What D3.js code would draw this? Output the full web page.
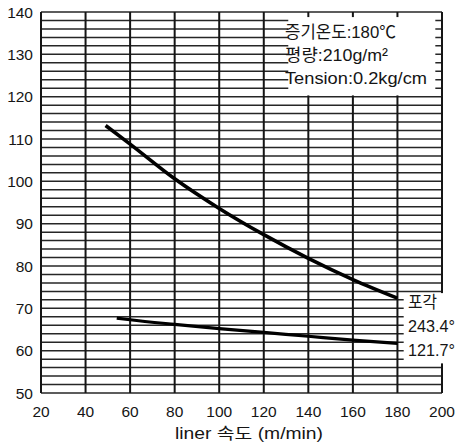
<!DOCTYPE html>
<html>
<head>
<meta charset="utf-8">
<script src="https://cdn.jsdelivr.net/npm/d3@7"></script>
<style>
  body { margin: 0; background: #fff; }
  svg { display: block; }
</style>
</head>
<body>
<div id="chart"></div>
<script>
// speed on the x axis, value on the y axis
var speedUpper = [49, 60, 80, 100, 120, 140, 160, 180];
var valueUpper = [113.2, 108.8, 100.6, 93.6, 87.4, 81.8, 76.8, 72.4];

var speedLower = [54, 60, 80, 100, 120, 140, 160, 180];
var valueLower = [67.7, 67.3, 66.2, 65.2, 64.3, 63.4, 62.5, 61.7];

var xTicks = [20, 40, 60, 80, 100, 120, 140, 160, 180, 200];
var yTicks = [50, 60, 70, 80, 90, 100, 110, 120, 130, 140];

var noteLines = ['증기온도:180℃', '평량:210g/m²', 'Tension:0.2kg/cm'];
var endLabels = ['포각', '243.4°', '121.7°'];

var W = 455, H = 447;
var margin = {top: 12, right: 13, bottom: 54, left: 41};

var svg = d3.select('#chart').append('svg')
    .attr('width', W)
    .attr('height', H);

var x = d3.scaleLinear().domain([20, 200]).range([margin.left, W - margin.right]);
var y = d3.scaleLinear().domain([50, 140]).range([H - margin.bottom, margin.top]);

var ink = '#151515';
var sans = '"Liberation Sans", "Noto Sans CJK KR", sans-serif';

// graph paper: horizontal every 2, vertical every 20
var g = svg.append('g');
g.selectAll('.hline')
    .data(d3.range(50, 141, 2))
    .enter().append('line')
    .attr('x1', x(20)).attr('x2', x(200))
    .attr('y1', function(d){ return y(d); })
    .attr('y2', function(d){ return y(d); })
    .style('stroke', '#262626')
    .style('stroke-width', 1.5);

g.selectAll('.vline')
    .data(xTicks)
    .enter().append('line')
    .attr('x1', function(d){ return x(d); })
    .attr('x2', function(d){ return x(d); })
    .attr('y1', y(140)).attr('y2', y(50))
    .style('stroke', ink)
    .style('stroke-width', 2);

// white boxes for the notes
svg.append('rect')
    .attr('x', x(131)).attr('y', y(138.8))
    .attr('width', x(197) - x(131))
    .attr('height', y(120.3) - y(138.8))
    .style('fill', '#fff');

svg.append('rect')
    .attr('x', x(182.8)).attr('y', y(73.6))
    .attr('width', W - x(182.8))
    .attr('height', y(57) - y(73.6))
    .style('fill', '#fff');

// curves
var line = d3.line().curve(d3.curveMonotoneX);

svg.append('path')
    .attr('d', line(speedUpper.map(function(s, i){ return [x(s), y(valueUpper[i])]; })))
    .style('fill', 'none')
    .style('stroke', '#000')
    .style('stroke-width', 3.6);

svg.append('path')
    .attr('d', line(speedLower.map(function(s, i){ return [x(s), y(valueLower[i])]; })))
    .style('fill', 'none')
    .style('stroke', '#000')
    .style('stroke-width', 3.2);

// tick labels
svg.selectAll('.ylab')
    .data(yTicks)
    .enter().append('text')
    .attr('x', 33)
    .attr('y', function(d){ return y(d) + 5.5; })
    .attr('text-anchor', 'end')
    .attr('font-family', sans)
    .attr('font-size', 15.5)
    .style('fill', ink)
    .text(function(d){ return d; });

svg.selectAll('.xlab')
    .data(xTicks)
    .enter().append('text')
    .attr('x', function(d){ return x(d); })
    .attr('y', 417)
    .attr('text-anchor', 'middle')
    .attr('font-family', sans)
    .attr('font-size', 15.5)
    .style('fill', ink)
    .text(function(d){ return d; });

svg.append('text')
    .attr('x', 175)
    .attr('y', 439)
    .attr('font-family', sans)
    .attr('font-size', 16)
    .attr('textLength', 148)
    .attr('lengthAdjust', 'spacingAndGlyphs')
    .style('fill', ink)
    .text('liner 속도 (m/min)');

// notes in the top box
var noteWidths = [111, 103, 142];
svg.selectAll('.note')
    .data(noteLines)
    .enter().append('text')
    .attr('x', 285)
    .attr('y', function(d, i){ return 38 + i * 23; })
    .attr('font-family', sans)
    .attr('font-size', 17)
    .attr('textLength', function(d, i){ return noteWidths[i]; })
    .attr('lengthAdjust', 'spacingAndGlyphs')
    .style('fill', ink)
    .text(function(d){ return d; });

// labels at the curve ends
var endWidths = [29, 47, 47];
svg.selectAll('.endlab')
    .data(endLabels)
    .enter().append('text')
    .attr('x', 408)
    .attr('y', function(d, i){ return [308, 332, 356][i]; })
    .attr('font-family', sans)
    .attr('font-size', 16.5)
    .attr('textLength', function(d, i){ return endWidths[i]; })
    .attr('lengthAdjust', 'spacingAndGlyphs')
    .style('fill', ink)
    .text(function(d){ return d; });
</script>
</body>
</html>
